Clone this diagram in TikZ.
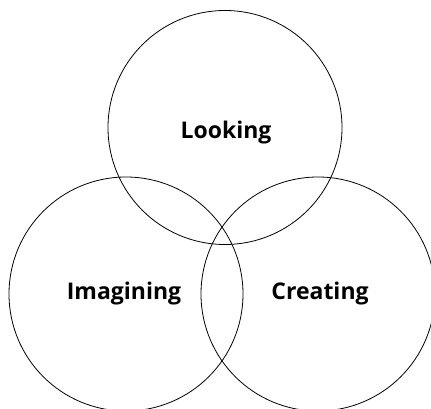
\documentclass[tikz,border=0pt]{standalone}
\usepackage{fontspec}
\setmainfont{Open Sans}
\tikzset{
  every picture/.style={line width=0.8pt},
  ring/.style={draw, circle, minimum size=234pt, inner sep=0pt},
  word/.style={font=\fontsize{23}{26}\selectfont\bfseries, anchor=base, inner sep=0pt},
}
\begin{document}
\begin{tikzpicture}[x=1pt, y=-1pt]
  \useasboundingbox (0,0) rectangle (431,409);
  \clip (0,0) rectangle (431,409);
  % three overlapping rings
  \node[ring] (look) at (225,127.5) {};
  \node[ring] (imag) at (126,294) {};
  \node[ring] (crea) at (318,294) {};
  % labels
  \node[word] (lookt) at (226,139) {Looking};
  \node[word] (imagt) at (124,299) {Imagining};
  \node[word] (creat) at (320,299) {Creating};
\end{tikzpicture}
\end{document}
